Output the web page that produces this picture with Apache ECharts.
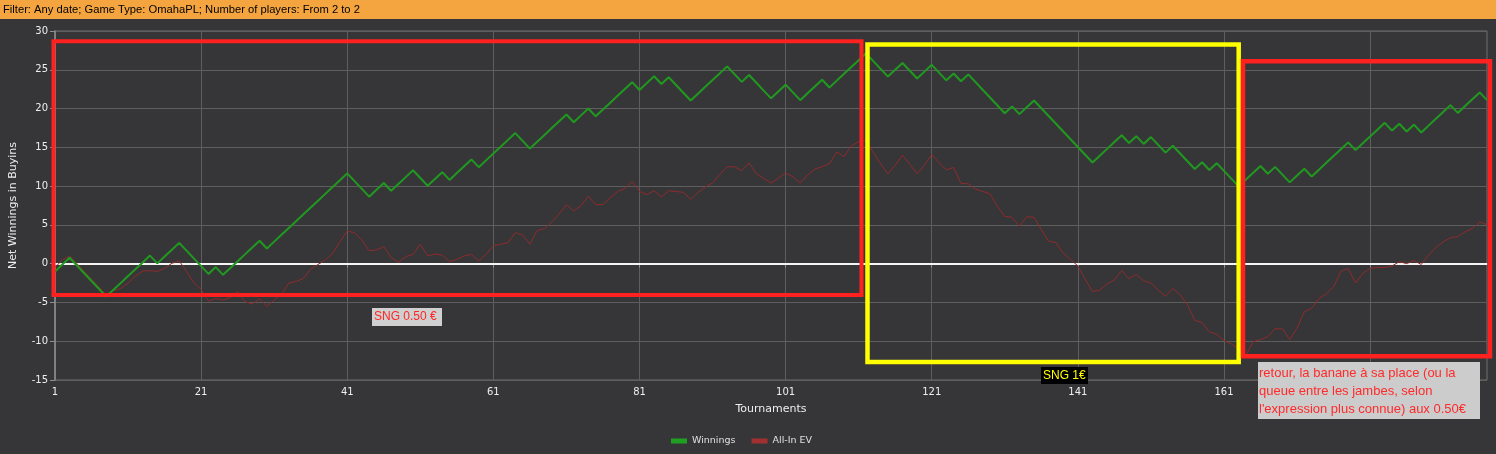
<!DOCTYPE html>
<html>
<head>
<meta charset="utf-8">
<script src="https://cdn.jsdelivr.net/npm/echarts@6/dist/echarts.min.js"></script>
<style>
html,body{margin:0;padding:0;background:#363639;}
#chart{width:1496px;height:454px;}
</style>
</head>
<body>
<div id="chart"></div>
<script>
// ---- data ----
const tournaments = Array.from({length: 197}, (_, i) => String(i + 1));

const winnings = [
 -1.00,-0.12,0.76,-0.24,-1.24,-2.24,-3.24,-4.24,-3.36,-2.48,
 -1.60,-0.72,0.16,1.04,0.04,0.92,1.80,2.68,1.68,0.68,
 -0.32,-1.32,-0.44,-1.44,-0.56,0.32,1.20,2.08,2.96,1.96,
 2.84,3.72,4.60,5.48,6.36,7.24,8.12,9.00,9.88,10.76,
 11.64,10.64,9.64,8.64,9.52,10.40,9.40,10.28,11.16,12.04,
 11.04,10.04,10.92,11.80,10.80,11.68,12.56,13.44,12.44,13.32,
 14.20,15.08,15.96,16.84,15.84,14.84,15.72,16.60,17.48,18.36,
 19.24,18.24,19.12,20.00,19.00,19.88,20.76,21.64,22.52,23.40,
 22.40,23.28,24.16,23.16,24.04,23.04,22.04,21.04,21.92,22.80,
 23.68,24.56,25.44,24.44,23.44,24.32,23.32,22.32,21.32,22.20,
 23.08,22.08,21.08,21.96,22.84,23.72,22.72,23.60,24.48,25.36,
 26.24,27.12,26.12,25.12,24.12,25.00,25.88,24.88,23.88,24.76,
 25.64,24.64,23.64,24.52,23.52,24.40,23.40,22.40,21.40,20.40,
 19.40,20.28,19.28,20.16,21.04,20.04,19.04,18.04,17.04,16.04,
 15.04,14.04,13.04,13.92,14.80,15.68,16.56,15.56,16.44,15.44,
 16.32,15.32,14.32,15.20,14.20,13.20,12.20,13.08,12.08,12.96,
 11.96,10.96,9.96,10.84,11.72,12.60,11.60,12.48,11.48,10.48,
 11.36,12.24,11.24,12.12,13.00,13.88,14.76,15.64,14.64,15.52,
 16.40,17.28,18.16,17.16,18.04,17.04,17.92,16.92,17.80,18.68,
 19.56,20.44,19.44,20.32,21.20,22.08,21.08
];

const allInEV = [
 -0.5,0.5,1.0,0.0,-1.0,-2.0,-3.0,-4.0,-3.5,-3.2,
 -2.5,-1.6,-0.95,-0.9,-1.0,-0.6,0.05,0.35,-1.0,-2.45,
 -3.3,-4.8,-4.5,-4.7,-4.4,-3.6,-4.9,-5.2,-4.55,-5.5,
 -4.7,-3.95,-2.5,-2.3,-1.9,-0.7,-0.1,0.47,1.33,2.83,
 4.2,4.0,3.05,1.67,1.76,2.2,0.8,0.17,0.9,1.2,
 2.5,1.0,1.25,1.1,0.26,0.55,1.0,1.2,0.34,1.2,
 2.3,2.5,2.7,4.0,3.7,2.5,4.3,4.5,5.4,6.4,
 7.6,6.8,7.5,8.7,7.6,7.65,8.5,9.3,9.7,10.6,
 9.3,8.9,9.4,8.6,9.4,9.3,9.2,8.3,9.15,9.9,
 10.4,11.5,12.5,12.5,12.0,13.0,11.6,11.0,10.4,11.0,
 11.7,11.2,10.4,11.4,12.2,12.5,12.9,14.4,13.8,15.2,
 15.7,15.9,14.35,12.9,11.55,12.7,14.0,12.8,11.6,12.7,
 14.1,13.0,12.1,12.4,10.35,10.3,9.6,9.3,9.0,7.35,
 6.1,5.97,4.85,6.05,5.97,4.4,2.9,2.7,1.33,0.56,
 -0.3,-2.0,-3.6,-3.4,-2.6,-2.1,-0.9,-1.93,-1.37,-2.2,
 -2.5,-3.4,-4.2,-3.2,-4.0,-5.3,-7.3,-7.6,-8.8,-9.1,
 -9.9,-10.35,-11.0,-11.8,-10.05,-9.8,-9.4,-8.4,-8.4,-9.8,
 -8.3,-6.2,-5.75,-4.5,-3.9,-3.0,-1.0,-0.6,-2.5,-1.25,
 -0.6,-0.5,-0.5,-0.3,0.26,0.0,0.4,-0.1,1.1,2.1,
 2.8,3.35,3.5,4.1,4.55,5.4,5.0
];

const yTicks = {min: -15, max: 30, interval: 5};
const seriesNames = ['Winnings', 'All-In EV'];
const filterText = 'Filter: Any date; Game Type: OmahaPL; Number of players: From 2 to 2';
const note1 = 'SNG 0.50 €';
const note2 = 'SNG 1€';
const note3 = "retour, la banane à sa place (ou la\nqueue entre les jambes, selon\nl'expression plus connue) aux 0.50€";

// ---- chart ----
const FONT = '"DejaVu Sans", Verdana, sans-serif';
const chart = echarts.init(document.getElementById('chart'), null, {renderer: 'canvas'});
const option = {
  backgroundColor: '#363639',
  animation: false,
  textStyle: {fontFamily: FONT},
  grid: {left: 54, right: 9, top: 31, bottom: 74, show: true, borderColor: '#6e6e6e', borderWidth: 1},
  legend: {
    data: seriesNames,
    left: 666, top: 431,
    icon: 'rect', itemWidth: 16, itemHeight: 5, itemGap: 16,
    textStyle: {color: '#e0e0e0', fontSize: 9.5, fontFamily: FONT}
  },
  xAxis: {
    type: 'category', data: tournaments, boundaryGap: false,
    name: 'Tournaments', nameLocation: 'middle', nameGap: 24,
    nameTextStyle: {color: '#eeeeee', fontSize: 11, fontFamily: FONT},
    axisLine: {lineStyle: {color: '#8e8e8e', width: 1.5}},
    axisTick: {show: true, interval: 19, length: 4, lineStyle: {color: '#8e8e8e'}},
    axisLabel: {interval: 19, color: '#eeeeee', fontSize: 10, margin: 7, fontFamily: FONT},
    splitLine: {show: true, interval: 19, lineStyle: {color: '#5e5e5e', width: 1}}
  },
  yAxis: {
    type: 'value', min: yTicks.min, max: yTicks.max, interval: yTicks.interval,
    name: 'Net Winnings in Buyins', nameLocation: 'middle', nameGap: 36,
    nameTextStyle: {color: '#eeeeee', fontSize: 11, fontFamily: FONT},
    axisLine: {show: true, lineStyle: {color: '#8e8e8e', width: 1.5}},
    axisTick: {show: true, length: 5, lineStyle: {color: '#8e8e8e'}},
    axisLabel: {color: '#eeeeee', fontSize: 10, margin: 7, fontFamily: FONT},
    splitLine: {show: true, lineStyle: {color: '#5e5e5e', width: 1}}
  },
  series: [
    {
      name: seriesNames[0], type: 'line', data: winnings, showSymbol: false, symbol: 'none',
      lineStyle: {color: '#1f9a1f', width: 2}, itemStyle: {color: '#20a020'}, z: 3,
      markLine: {
        silent: true, symbol: 'none', label: {show: false},
        lineStyle: {color: '#f4f4f4', width: 2, type: 'solid'},
        data: [{yAxis: 0}], z: 1
      }
    },
    {
      name: seriesNames[1], type: 'line', data: allInEV, showSymbol: false, symbol: 'none',
      lineStyle: {color: '#8e2b2b', width: 1}, itemStyle: {color: '#a33030'}, z: 2
    }
  ],
  graphic: [
    {type: 'rect', z: 100, shape: {x: 0, y: 0, width: 1496, height: 19}, style: {fill: '#f4a540'}},
    {type: 'text', z: 101, x: 3, y: 10, style: {text: filterText, fill: '#000000', font: '11.2px "Liberation Sans", Arial, sans-serif', verticalAlign: 'middle'}},
    {type: 'rect', z: 100, shape: {x: 53.5, y: 41.3, width: 808, height: 253.7}, style: {fill: 'none', stroke: '#ff2020', lineWidth: 4}},
    {type: 'rect', z: 100, shape: {x: 867.5, y: 44.5, width: 371.2, height: 317.5}, style: {fill: 'none', stroke: '#ffff00', lineWidth: 4.5}},
    {type: 'rect', z: 100, shape: {x: 1243, y: 61.3, width: 247, height: 295}, style: {fill: 'none', stroke: '#ff2020', lineWidth: 4.5}},
    {type: 'rect', z: 100, shape: {x: 372, y: 308, width: 70, height: 18}, style: {fill: '#d0d0d0'}},
    {type: 'text', z: 101, x: 374, y: 317, style: {text: note1, fill: '#ff2626', font: '12px "Liberation Sans", Arial, sans-serif', verticalAlign: 'middle'}},
    {type: 'rect', z: 100, shape: {x: 1041, y: 367, width: 47, height: 17}, style: {fill: '#000000'}},
    {type: 'text', z: 101, x: 1043, y: 375.5, style: {text: note2, fill: '#ffff00', font: '12px "Liberation Sans", Arial, sans-serif', verticalAlign: 'middle'}},
    {type: 'rect', z: 100, shape: {x: 1258, y: 362, width: 222, height: 57}, style: {fill: '#cccccc'}},
    {type: 'text', z: 101, x: 1259, y: 364, style: {text: note3, fill: '#ff2a2a', font: '13px "Liberation Sans", Arial, sans-serif', lineHeight: 18.3, verticalAlign: 'top'}}
  ]
};
chart.setOption(option);
</script>
</body>
</html>
